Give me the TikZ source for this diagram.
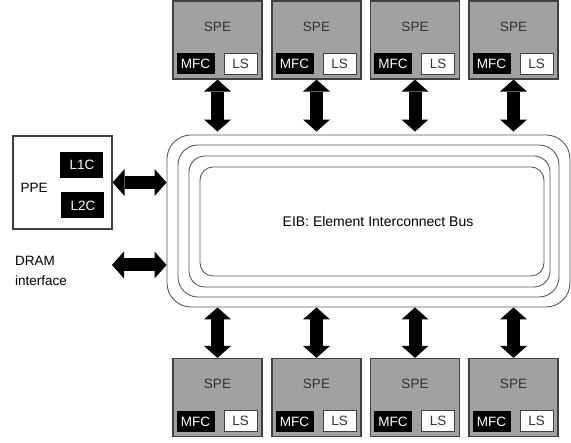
\documentclass[tikz,border=0pt]{standalone}
\usepackage{fontspec}
\setmainfont{Liberation Sans}
\usepackage{tikz}
\usetikzlibrary{shapes, arrows.meta, positioning}
\definecolor{spegray}{gray}{0.63}
\definecolor{edge}{gray}{0.25}
\tikzstyle{spe} = [rectangle, draw=edge, line width=1.2pt, fill=spegray, minimum width=89pt, minimum height=78pt, inner sep=0pt, label={[text=black!80, inner sep=0pt, label distance=-31pt]north:SPE}]
\tikzstyle{mfc} = [rectangle, fill=black, text=white, minimum width=38pt, minimum height=21pt, inner sep=0pt]
\tikzstyle{ls} = [rectangle, draw=edge, line width=1pt, fill=white, text=black!80, minimum width=33pt, minimum height=21pt, inner sep=0pt]
\tikzstyle{cache} = [rectangle, fill=black, text=white, minimum width=43pt, minimum height=26pt, inner sep=0pt]
\tikzstyle{ring} = [rectangle, draw=black!65, line width=0.9pt]
\tikzstyle{bidir} = [draw, line width=13pt, {Triangle[width=27pt, length=12pt, line width=0pt]}-{Triangle[width=27pt, length=12pt, line width=0pt]}]

\begin{document}
\begin{tikzpicture}[x=1pt, y=1pt, font=\fontsize{13.5}{15}\selectfont]
			\useasboundingbox (0,0) rectangle (571,443);

			% element interconnect bus
			\node [ring, rounded corners=24pt, minimum width=403pt, minimum height=172pt] (bus) at (368.5, 222) {};
			\node [ring, rounded corners=20pt, minimum width=381pt, minimum height=152pt] (ring2) at (368.5, 222) {};
			\node [ring, rounded corners=16pt, minimum width=361pt, minimum height=131pt] (ring3) at (369.5, 221.5) {};
			\node [ring, rounded corners=13pt, minimum width=344pt, minimum height=109pt, label={[xshift=6pt, font=\fontsize{14}{16}\selectfont]center:{EIB: Element Interconnect Bus}}] (eib) at (372, 221.5) {};

			% PPE and DRAM
			\node [rectangle, draw=edge, line width=1.2pt, minimum width=99pt, minimum height=93pt, label={[inner sep=0pt, anchor=west, label distance=-8pt, yshift=-5pt]west:PPE}] (ppe) at (62.5, 260.5) {};
			\node [cache, below left=16pt and 9pt of ppe.north east] (l1c) {L1C};
			\node [cache, above left=11pt and 8pt of ppe.south east] (l2c) {L2C};
			\node [align=left, anchor=west, inner sep=0pt, font=\fontsize{13.5}{20}\selectfont] (dram) at (15, 171.6) {DRAM\\interface};
			\coordinate (dramport) at (112, 178);

			% SPEs above the bus
			\node [spe] (spe1) at (217.5, 403) {};
			\node [spe] (spe2) at (316.5, 403) {};
			\node [spe] (spe3) at (415, 403) {};
			\node [spe] (spe4) at (513.5, 403) {};
			% SPEs below the bus
			\node [spe] (spe5) at (217.5, 45.5) {};
			\node [spe] (spe6) at (316.5, 45.5) {};
			\node [spe] (spe7) at (415, 45.5) {};
			\node [spe] (spe8) at (513.5, 45.5) {};

			\node [mfc, above right=5pt and 4pt of spe1.south west] (mfc1) {MFC};
			\node [ls, above left=5pt and 5pt of spe1.south east] (ls1) {LS};
			\node [mfc, above right=5pt and 4pt of spe2.south west] (mfc2) {MFC};
			\node [ls, above left=5pt and 5pt of spe2.south east] (ls2) {LS};
			\node [mfc, above right=5pt and 4pt of spe3.south west] (mfc3) {MFC};
			\node [ls, above left=5pt and 5pt of spe3.south east] (ls3) {LS};
			\node [mfc, above right=5pt and 4pt of spe4.south west] (mfc4) {MFC};
			\node [ls, above left=5pt and 5pt of spe4.south east] (ls4) {LS};
			\node [mfc, above right=5pt and 4pt of spe5.south west] (mfc5) {MFC};
			\node [ls, above left=5pt and 5pt of spe5.south east] (ls5) {LS};
			\node [mfc, above right=5pt and 4pt of spe6.south west] (mfc6) {MFC};
			\node [ls, above left=5pt and 5pt of spe6.south east] (ls6) {LS};
			\node [mfc, above right=5pt and 4pt of spe7.south west] (mfc7) {MFC};
			\node [ls, above left=5pt and 5pt of spe7.south east] (ls7) {LS};
			\node [mfc, above right=5pt and 4pt of spe8.south west] (mfc8) {MFC};
			\node [ls, above left=5pt and 5pt of spe8.south east] (ls8) {LS};

			% connections to the bus
			\path [bidir] (ppe.east) -- (ppe.east -| bus.west);
			\path [bidir] (dramport) -- (dramport -| bus.west);
			\path [bidir, shorten >=3pt] (spe1.south) -- (spe1.south |- bus.north);
			\path [bidir, shorten >=3pt] (spe2.south) -- (spe2.south |- bus.north);
			\path [bidir, shorten >=3pt] (spe3.south) -- (spe3.south |- bus.north);
			\path [bidir, shorten >=3pt] (spe4.south) -- (spe4.south |- bus.north);
			\path [bidir] (spe5.north) -- (spe5.north |- bus.south);
			\path [bidir] (spe6.north) -- (spe6.north |- bus.south);
			\path [bidir] (spe7.north) -- (spe7.north |- bus.south);
			\path [bidir] (spe8.north) -- (spe8.north |- bus.south);
		\end{tikzpicture}
\end{document}
